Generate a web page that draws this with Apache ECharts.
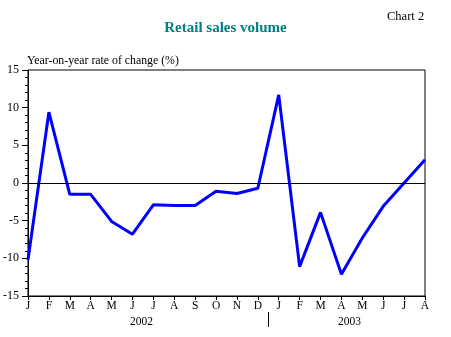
<!DOCTYPE html>
<html>
<head>
<meta charset="utf-8">
<script src="https://cdn.jsdelivr.net/npm/echarts@6/dist/echarts.min.js"></script>
<style>html,body{margin:0;padding:0;background:#fff}#c{width:451px;height:337px}</style>
</head>
<body>
<div id="c"></div>
<script>
var months = ['J','F','M','A','M','J','J','A','S','O','N','D','J','F','M','A','M','J','J','A'];
var salesChange = [-10.2, 9.4, -1.5, -1.5, -5.1, -6.8, -2.9, -3.0, -3.0, -1.1, -1.4, -0.7, 11.7, -11.1, -3.9, -12.1, -7.3, -3.1, 0.0, 3.1];
var yearLabels = ['2002', '2003'];
var yTicks = {min: -15, max: 15, interval: 5};
var F = '"Liberation Serif", "Times New Roman", serif';

var chart = echarts.init(document.getElementById('c'), null, {renderer: 'canvas'});
chart.setOption({
  animation: false,
  backgroundColor: '#fff',
  grid: {left: 27, right: 26, top: 70, bottom: 41, show: true, borderColor: '#000', borderWidth: 1, backgroundColor: 'transparent'},
  title: [
    {text: 'Retail sales volume', left: 'center', top: 16, textStyle: {fontFamily: F, fontSize: 15, fontWeight: 'bold', color: '#008080'}},
    {text: 'Chart 2', left: 382, top: 5, textStyle: {fontFamily: F, fontSize: 12.5, fontWeight: 'normal', color: '#000'}}
  ],
  graphic: [
    {type: 'text', left: 27, top: 55, style: {text: 'Year-on-year rate of change (%)', font: '11.8px ' + F, fill: '#000'}},
    {type: 'text', left: 130, top: 316, style: {text: yearLabels[0], font: '11.5px ' + F, fill: '#000'}},
    {type: 'text', left: 338, top: 316, style: {text: yearLabels[1], font: '11.5px ' + F, fill: '#000'}},
    {type: 'line', shape: {x1: 268.5, y1: 312, x2: 268.5, y2: 327}, style: {stroke: '#000', lineWidth: 1}}
  ],
  xAxis: {
    type: 'category', data: months, boundaryGap: false,
    axisLine: {show: true, onZero: false, lineStyle: {color: '#000', width: 1}},
    axisTick: {show: true, length: 4, lineStyle: {color: '#000'}},
    axisLabel: {fontFamily: F, fontSize: 11.5, color: '#000', margin: 4, interval: 0},
    splitLine: {show: false}
  },
  yAxis: {
    type: 'value', min: yTicks.min, max: yTicks.max, interval: yTicks.interval,
    axisLine: {show: true, lineStyle: {color: '#000', width: 1}},
    axisTick: {show: true, length: 6, lineStyle: {color: '#000'}},
    minorTick: {show: true, splitNumber: 5, length: 3, lineStyle: {color: '#000'}},
    axisLabel: {fontFamily: F, fontSize: 12, color: '#000', margin: 9},
    splitLine: {show: false}
  },
  series: [{
    type: 'line', data: salesChange, symbol: 'none',
    lineStyle: {color: '#0000ff', width: 3},
    markLine: {silent: true, symbol: 'none', label: {show: false},
      lineStyle: {color: '#000', width: 1, type: 'solid'},
      data: [{yAxis: 0}]}
  }]
});
</script>
</body>
</html>
